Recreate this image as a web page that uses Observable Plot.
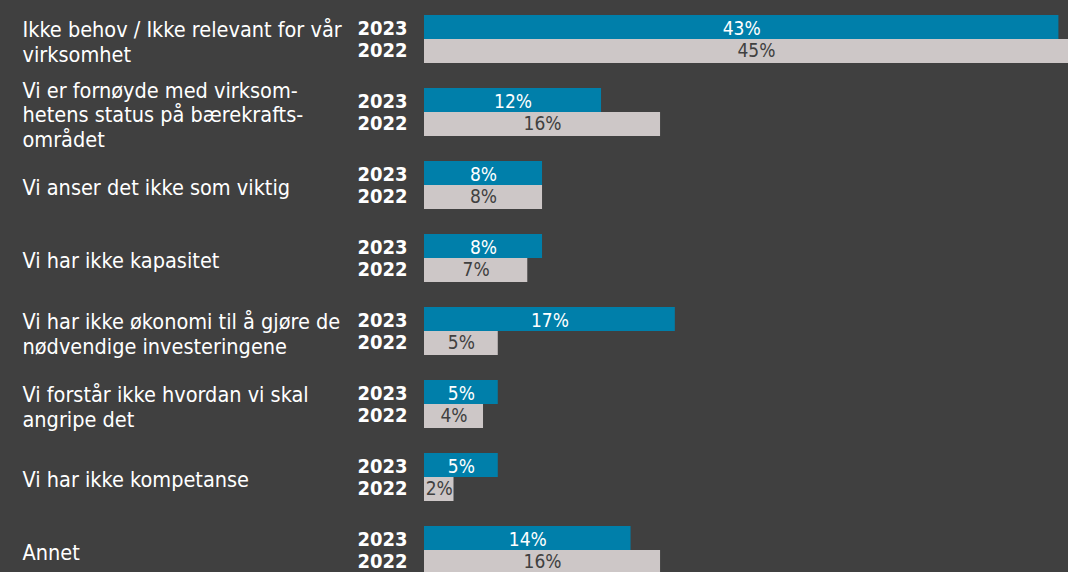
<!DOCTYPE html>
<html>
<head>
<meta charset="utf-8">
<script src="https://cdn.jsdelivr.net/npm/d3@7"></script>
<script src="https://cdn.jsdelivr.net/npm/@observablehq/plot@0.6"></script>
<style>
  html, body { margin: 0; padding: 0; background: #404040; overflow: hidden; }
  #chart svg { display: block; }
</style>
</head>
<body>
<div id="chart"></div>
<script>
const categories = [
  "Ikke behov / Ikke relevant for vår\nvirksomhet",
  "Vi er fornøyde med virksom-\nhetens status på bærekrafts-\nområdet",
  "Vi anser det ikke som viktig",
  "Vi har ikke kapasitet",
  "Vi har ikke økonomi til å gjøre de\nnødvendige investeringene",
  "Vi forstår ikke hvordan vi skal\nangripe det",
  "Vi har ikke kompetanse",
  "Annet"
];
const years = ["2023", "2022"];
const values2023 = [43, 12, 8, 8, 17, 5, 5, 14];
const values2022 = [45, 16, 8, 7, 5, 4, 2, 16];

const rows = [];
categories.forEach((c, i) => {
  rows.push({category: c, year: years[0], value: values2023[i]});
  rows.push({category: c, year: years[1], value: values2022[i]});
});
const r23 = rows.filter(d => d.year === "2023");
const r22 = rows.filter(d => d.year === "2022");

const FONT = "'DejaVu Sans Condensed', 'DejaVu Sans', sans-serif";
const TEAL = "#007FAA";
const GREY = "#CDC7C7";

const chart = Plot.plot({
  width: 1068,
  height: 574,
  marginLeft: 424,
  marginRight: 0,
  marginTop: 15,
  marginBottom: 0,
  style: {background: "#404040", fontFamily: FONT, overflow: "hidden"},
  x: {domain: [0, 43.65], axis: null},
  y: {domain: categories, axis: null, paddingInner: 25 / 73, paddingOuter: 0},
  marks: [
    Plot.barX(r23, {x: "value", y: "category", fill: TEAL, insetBottom: 24, clip: true}),
    Plot.barX(r22, {x: "value", y: "category", fill: GREY, insetTop: 24, clip: true}),
    Plot.text(r23, {x: d => d.value / 2, y: "category", text: d => d.value + "%", dy: -11, fill: "white", fontSize: 19}),
    Plot.text(r22, {x: d => d.value / 2, y: "category", text: d => d.value + "%", dy: 11, fill: "#404040", fontSize: 19}),
    Plot.text(r23, {y: "category", text: "year", frameAnchor: "left", textAnchor: "end", dx: -17, dy: -11, fill: "white", fontSize: 20, fontWeight: "bold"}),
    Plot.text(r22, {y: "category", text: "year", frameAnchor: "left", textAnchor: "end", dx: -17, dy: 11, fill: "white", fontSize: 20, fontWeight: "bold"}),
    Plot.text(categories, {y: d => d, text: d => d, frameAnchor: "left", textAnchor: "start", lineAnchor: "middle", lineHeight: 1.15, dx: -402, dy: 2, fill: "white", fontSize: 21.5})
  ]
});
document.getElementById("chart").appendChild(chart);
</script>
</body>
</html>
